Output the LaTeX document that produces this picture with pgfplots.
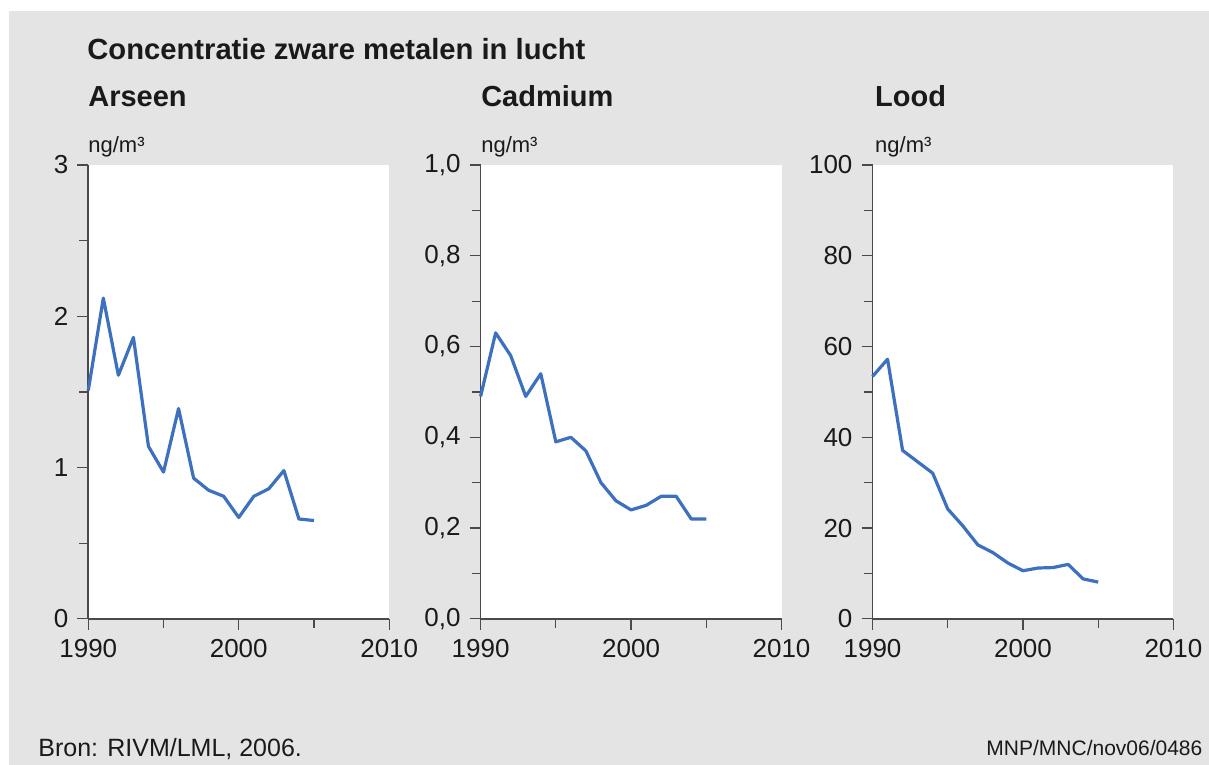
\documentclass[border=0pt]{standalone}
\usepackage{fontspec}
\setmainfont{Liberation Sans}
\usepackage{pgfplots}
\pgfplotsset{compat=1.18}
\definecolor{bggray}{HTML}{E4E4E4}
\definecolor{axgray}{HTML}{4A4A4A}
\definecolor{lineblue}{HTML}{3D70BE}
\definecolor{txt}{HTML}{1A1A1A}
\pgfplotsset{
  panel/.style={
    scale only axis, width=150.5pt, height=227pt,
    anchor=south west,
    axis lines*=left,
    axis line style={-, axgray, line width=0.9pt},
    axis background/.style={fill=white},
    enlargelimits=false,
    xmin=1990, xmax=2010, xtick={1990,2000,2010}, minor x tick num=1,
    minor y tick num=1,
    tick align=outside,
    major tick length=5.5pt, minor tick length=4.5pt,
    every tick/.style={axgray, line width=0.6pt},
    tick label style={font=\fontsize{13}{15}\selectfont, text=txt},
    /pgf/number format/assume math mode=true,
    xticklabel style={/pgf/number format/1000 sep={}, yshift=-1pt},
    yticklabel style={xshift=-1pt},
    every axis plot post/.style={color=lineblue, line width=1.6pt, line join=round, mark=none},
    clip=false,
  }
}
\begin{document}
\begin{tikzpicture}
\path[fill=white] (0,0) rectangle (604.5pt,382.5pt);
\path[fill=bggray] (4.5pt,0) rectangle (604.5pt,377pt);
\node[anchor=base west, inner sep=0, text=txt, font=\fontsize{14.6}{16}\selectfont\bfseries] at (43.5pt,352.5pt) {Concentratie zware metalen in lucht};
\foreach \x/\t in {44/Arseen, 240.5/Cadmium, 437.5/Lood}{
  \node[anchor=base west, inner sep=0, text=txt, font=\fontsize{14.5}{16}\selectfont\bfseries] at (\x pt,329pt) {\t};
  \node[anchor=base west, inner sep=0, text=txt, font=\fontsize{11}{13}\selectfont] at (\x pt,306pt) {ng/m³};
}
\node[anchor=base west, inner sep=0, text=txt, font=\fontsize{12.5}{14}\selectfont] at (19pt,4pt) {Bron: RIVM/LML, 2006.};
\node[anchor=base east, inner sep=0, text=txt, font=\fontsize{10.5}{12}\selectfont] at (601.5pt,4.5pt) {MNP/MNC/nov06/0486};

\begin{axis}[panel, at={(44.15pt,73pt)}, ymin=0, ymax=3, ytick={0,1,2,3}]
\addplot coordinates {
(1990,1.51) (1991,2.12) (1992,1.61) (1993,1.86) (1994,1.14) (1995,0.97)
(1996,1.39) (1997,0.93) (1998,0.85) (1999,0.81) (2000,0.67) (2001,0.81)
(2002,0.86) (2003,0.98) (2004,0.66) (2005,0.65)};
\end{axis}

\begin{axis}[panel, at={(240.35pt,73pt)}, ymin=0, ymax=1, ytick={0,0.2,0.4,0.6,0.8,1.0},
  yticklabel style={/pgf/number format/.cd, use comma, fixed, fixed zerofill, precision=1}]
\addplot coordinates {
(1990,0.49) (1991,0.63) (1992,0.58) (1993,0.49) (1994,0.54) (1995,0.39)
(1996,0.40) (1997,0.37) (1998,0.30) (1999,0.26) (2000,0.24) (2001,0.25)
(2002,0.27) (2003,0.27) (2004,0.22) (2005,0.22)};
\end{axis}

\begin{axis}[panel, at={(436.35pt,73pt)}, ymin=0, ymax=100, ytick={0,20,40,60,80,100}]
\addplot coordinates {
(1990,53.4) (1991,57.2) (1992,37.1) (1993,34.6) (1994,32.1) (1995,24.2)
(1996,20.5) (1997,16.3) (1998,14.6) (1999,12.3) (2000,10.6) (2001,11.2)
(2002,11.3) (2003,12.0) (2004,8.8) (2005,8.1)};
\end{axis}
\end{tikzpicture}
\end{document}
